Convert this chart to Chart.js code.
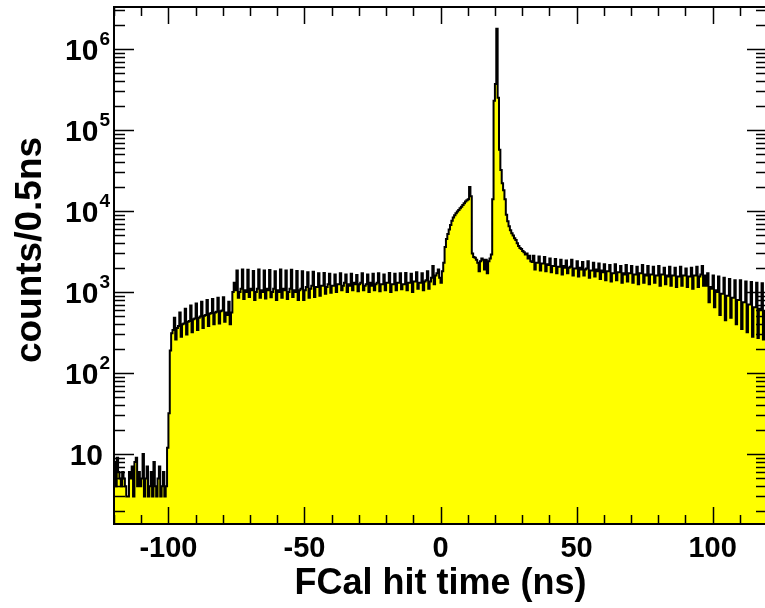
<!DOCTYPE html>
<html>
<head>
<meta charset="utf-8">
<script src="https://cdn.jsdelivr.net/npm/chart.js@4.4.1/dist/chart.umd.min.js"></script>
<style>
  html, body { margin: 0; padding: 0; background: #fff; overflow: hidden; }
  #chart-fcal-time { display: block; }
</style>
</head>
<body>
<canvas id="chart-fcal-time" width="768" height="608"></canvas>
<script>
// histogram binning (ns)
var binStart = -120;
var binWidth = 0.5;

// counts per 0.5 ns bin, region by region
// -120 .. -100
var preCounts = [9, 8, 4, 9, 6, 5, 4, 6, 5, 4, 3, 3, 6, 5, 7, 3, 8, 9, 4, 6,
    4, 5, 10, 3, 5, 7, 3, 4, 6, 3, 8, 4, 3, 5, 7, 3, 4, 6, 3, 4];
// -100 .. -75
var rampCounts = [12, 32, 190, 310,
    340, 480, 260, 360, 380, 560, 280, 400, 410, 620, 300, 430,
    440, 680, 320, 460, 470, 720, 340, 480, 500, 760, 360, 510,
    520, 800, 380, 540, 550, 820, 400, 560, 570, 850, 410, 580,
    590, 860, 430, 560, 520, 760, 400, 560,
    1000, 1300];
// -75 .. -50
var plateauA = [1050, 1850, 850, 1000, 1100, 1900, 820, 1050, 1000, 1880, 870, 1100,
    1050, 1820, 800, 1000, 1100, 1900, 850, 1050, 1000, 1850, 830, 1100,
    1050, 1870, 860, 1000, 1100, 1800, 800, 1050, 1000, 1900, 850, 1100,
    1050, 1850, 820, 1000, 1100, 1880, 870, 1050, 1000, 1820, 800, 1050,
    1100, 1800];
// -50 .. 0
var plateauB = [800, 1050,
    1150, 1750, 850, 1100, 1200, 1780, 870, 1150, 1150, 1700, 900, 1200,
    1200, 1720, 950, 1150, 1250, 1680, 980, 1200, 1200, 1650, 1000, 1250,
    1250, 1700, 1050, 1200, 1300, 1650, 1000, 1250, 1200, 1680, 1050, 1300,
    1250, 1620, 1020, 1250, 1300, 1700, 1050, 1200, 1250, 1650, 1000, 1300,
    1200, 1680, 1050, 1250, 1300, 1700, 1020, 1250, 1250, 1650, 1050, 1300,
    1300, 1720, 1000, 1250, 1250, 1680, 1050, 1300, 1300, 1700, 1080, 1250,
    1250, 1720, 1050, 1300, 1300, 1680, 1000, 1350, 1350, 1750, 1100, 1300,
    1300, 1700, 1050, 1350, 1400, 1800, 1100, 1350, 1500, 2100, 1250, 1600,
    1700, 1900];
// 0 .. 12 (prompt bump)
var bumpCounts = [1500, 1300, 1800, 2300, 3600, 4500, 5200, 5900, 6700, 7600, 8300, 8900,
    9400, 9900, 10300, 10800, 11300, 11900, 12500, 13100, 13600, 14000, 19800, 15200];
// 12 .. 19.5
var gapCounts = [3000, 2700, 2650, 2500, 2300, 1800, 2400, 2600, 2500, 1900, 2500, 1700,
    2400, 2600, 2900];
// 19.5 .. 30 (main peak)
var peakCounts = [14000, 230000, 370000, 1780000, 250000, 57000, 32000, 22000, 18000, 14000,
    9000, 7500, 6500, 5800, 5300, 5000, 4600, 4400, 4000, 3700, 3500];
// 30 .. 98
var tailCounts = [3400, 3200, 3100, 2900, 3000, 2600, 2800, 2400,
    2350, 2800, 1900, 2300, 2300, 2750, 1850, 2250, 2250, 2700, 1800, 2200,
    2150, 2600, 1750, 2100, 2100, 2550, 1700, 2050, 2050, 2500, 1650, 2100,
    2000, 2450, 1700, 2000, 2050, 2500, 1600, 1950, 1950, 2400, 1550, 2000,
    1900, 2350, 1600, 1900, 1950, 2400, 1500, 1850, 1850, 2300, 1550, 1900,
    1800, 2250, 1450, 1850, 1750, 2200, 1400, 1800, 1800, 2150, 1350, 1700,
    1700, 2200, 1400, 1750, 1750, 2100, 1300, 1700, 1650, 2150, 1350, 1700,
    1700, 2100, 1300, 1650, 1650, 2050, 1250, 1700, 1700, 2150, 1300, 1650,
    1600, 2100, 1250, 1650, 1650, 2050, 1300, 1600, 1600, 2100, 1200, 1650,
    1650, 2000, 1250, 1600, 1550, 2050, 1200, 1600, 1600, 2000, 1150, 1550,
    1550, 2050, 1200, 1600, 1600, 1950, 1150, 1550, 1550, 2000, 1100, 1600,
    1600, 2050, 1150, 1550, 1650, 2100, 1200, 1600];
// 98 .. 120
var edgeCounts = [1200, 1700, 750, 1150, 1100, 1600, 650, 1050, 1000, 1550, 520, 950,
    950, 1500, 450, 900, 900, 1450, 480, 850, 850, 1400, 400, 800,
    800, 1400, 350, 750, 750, 1350, 320, 700, 700, 1330, 280, 650,
    650, 1300, 270, 620, 600, 1280, 260, 580];

// axis labels
var xTickLabels = [-100, -50, 0, 50, 100];
var yDecades = [1, 2, 3, 4, 5, 6];
var xTitle = 'FCal hit time (ns)';
var yTitle = 'counts/0.5ns';

var counts = [].concat(preCounts, rampCounts, plateauA, plateauB, bumpCounts,
    gapCounts, peakCounts, tailCounts, edgeCounts);

var points = counts.map(function (c, i) {
    return { x: binStart + i * binWidth, y: c };
});
points.push({ x: binStart + counts.length * binWidth, y: counts[counts.length - 1] });

var font = '"Liberation Sans", Arial, Helvetica, sans-serif';

// ROOT-like frame, ticks and labels
var rootFrame = {
    id: 'rootFrame',
    afterDraw: function (chart) {
        var ctx = chart.ctx;
        var a = chart.chartArea;
        var xs = chart.scales.x, ys = chart.scales.y;
        ctx.save();
        ctx.strokeStyle = '#000';
        ctx.fillStyle = '#000';

        // x ticks, top and bottom
        ctx.lineWidth = 1.5;
        for (var v = -120; v <= 120; v += 10) {
            var px = Math.round(xs.getPixelForValue(v)) + 0.5;
            var len = (v % 50 === 0) ? 17 : 9;
            ctx.beginPath();
            ctx.moveTo(px, a.bottom); ctx.lineTo(px, a.bottom - len);
            ctx.moveTo(px, a.top); ctx.lineTo(px, a.top + len);
            ctx.stroke();
        }
        // y ticks, left and right
        for (var d = 0; d <= 6; d++) {
            for (var k = 1; k <= 9; k++) {
                var val = k * Math.pow(10, d);
                if (val < ys.min || val > ys.max) continue;
                var py = Math.round(ys.getPixelForValue(val)) + 0.5;
                var l = (k === 1) ? 20 : 11;
                ctx.beginPath();
                ctx.moveTo(a.left, py); ctx.lineTo(a.left + l, py);
                ctx.moveTo(a.right, py); ctx.lineTo(a.right - l, py);
                ctx.stroke();
            }
        }
        // frame
        ctx.lineWidth = 2;
        ctx.strokeRect(a.left, a.top, a.right - a.left, a.bottom - a.top);

        // x tick labels
        ctx.font = 'bold 29px ' + font;
        ctx.textAlign = 'center';
        ctx.textBaseline = 'middle';
        xTickLabels.forEach(function (t) {
            ctx.fillText(String(t), xs.getPixelForValue(t), 549);
        });

        // y tick labels: 10, 10^2 ... 10^6
        yDecades.forEach(function (n) {
            var py = ys.getPixelForValue(Math.pow(10, n));
            var right = 110;
            ctx.textBaseline = 'alphabetic';
            ctx.textAlign = 'right';
            if (n === 1) {
                ctx.font = 'bold 30px ' + font;
                ctx.fillText('10', 103, py + 11);
            } else {
                ctx.font = 'bold 19px ' + font;
                var sup = String(n);
                var w = ctx.measureText(sup).width;
                ctx.fillText(sup, right, py - 4);
                ctx.font = 'bold 30px ' + font;
                ctx.fillText('10', right - w - 1, py + 11);
            }
        });

        // axis titles
        ctx.font = 'bold 36px ' + font;
        ctx.textAlign = 'center';
        ctx.textBaseline = 'middle';
        ctx.fillText(xTitle, xs.getPixelForValue(0), 584);
        ctx.save();
        ctx.font = 'bold 37px ' + font;
        ctx.translate(31, 250);
        ctx.rotate(-Math.PI / 2);
        ctx.fillText(yTitle, 0, 0);
        ctx.restore();

        ctx.restore();
    }
};

var ctx = document.getElementById('chart-fcal-time');
new Chart(ctx, {
    type: 'line',
    data: {
        datasets: [{
            label: 'FCal hits',
            data: points,
            stepped: 'after',
            borderColor: '#000000',
            borderWidth: 2,
            backgroundColor: '#ffff00',
            fill: 'start',
            pointRadius: 0,
            pointHoverRadius: 0
        }]
    },
    options: {
        responsive: false,
        animation: false,
        devicePixelRatio: 1,
        layout: { padding: { left: 114, right: 1, top: 7, bottom: 84 } },
        plugins: { legend: { display: false }, tooltip: { enabled: false } },
        scales: {
            x: { type: 'linear', min: -120, max: 120, display: false },
            y: { type: 'logarithmic', min: 1.37, max: 3.3e6, display: false }
        }
    },
    plugins: [rootFrame]
});
</script>
</body>
</html>
